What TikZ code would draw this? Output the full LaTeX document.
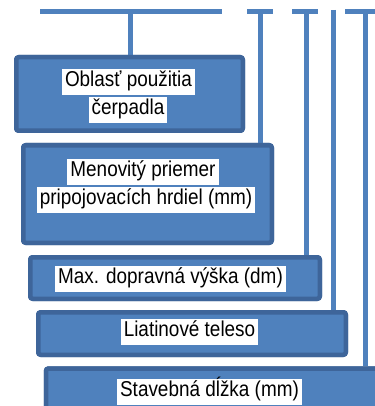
\documentclass[tikz,border=0pt]{standalone}
\usepackage{fontspec}
\setmainfont[FakeStretch=0.88]{Liberation Sans}
\usetikzlibrary{shadows}
\definecolor{lineblue}{HTML}{4F81BD}
\definecolor{boxfill}{HTML}{4F81BD}
\definecolor{boxedge}{HTML}{3E659A}
\tikzset{
  x=1pt,y=1pt,
  conn/.style={draw=lineblue,line width=5pt},
  box/.style={draw=boxedge,fill=boxfill,line width=4.5pt,rounded corners=2.5pt,
    inner sep=0pt,drop shadow={opacity=0.2,shadow xshift=1pt,shadow yshift=-2pt}},
  boxtop/.style={draw=boxedge,fill=boxfill,line width=4.5pt,rounded corners=2.5pt,inner sep=0pt},
  lbl/.style={fill=white,font=\fontsize{21.5}{24}\selectfont,text=black,
    inner xsep=3pt,inner ysep=0pt,text height=17.5pt,text depth=8.5pt}
}
\begin{document}
\begin{tikzpicture}
\useasboundingbox (0,0) rectangle (374,-406);
% boxes (outer edges given, path inset by half the line width)
\node[box,minimum width=226.5,minimum height=73.5] (b1) at (129.5,-94) {};
\node[box,minimum width=248.5,minimum height=97.5] (b2) at (147.5,-194) {};
\node[box,minimum width=289.5,minimum height=41.5] (b3) at (175,-278) {};
\node[box,minimum width=307.5,minimum height=42.5] (b4) at (192,-333.5) {};
\node[box,minimum width=340,minimum height=44] (b5) at (216,-390.5) {};
% connectors
\coordinate (h1l) at (40,-12);
\coordinate (h1r) at (222,-12);
\coordinate (s1) at (130.5,-12);
\coordinate (h2l) at (247,-12);
\coordinate (h2r) at (273,-12);
\coordinate (s2) at (260,-12);
\coordinate (h3l) at (292,-12);
\coordinate (h3r) at (318,-12);
\coordinate (s3) at (306.5,-12);
\coordinate (s4) at (333,-10);
\coordinate (h5l) at (345,-12);
\coordinate (h5r) at (376,-12);
\coordinate (s5) at (365,-12);
\draw[conn] (h1l) -- (h1r);
\draw[conn] (s1) -- (s1 |- b1.north);
\draw[conn] (h2l) -- (h2r);
\draw[conn] (s2) -- (s2 |- b2.north);
\draw[conn] (h3l) -- (h3r);
\draw[conn] (s3) -- (s3 |- b3.north);
\draw[conn] (s4) -- (s4 |- b4.north);
\draw[conn] (h5l) -- (h5r);
\draw[conn] (s5) -- (s5 |- b5.north);
% redraw boxes over the connector ends
\node[boxtop,minimum width=226.5,minimum height=73.5] at (b1) {};
\node[boxtop,minimum width=248.5,minimum height=97.5] at (b2) {};
\node[boxtop,minimum width=289.5,minimum height=41.5] at (b3) {};
\node[boxtop,minimum width=307.5,minimum height=42.5] at (b4) {};
\node[boxtop,minimum width=340,minimum height=44] at (b5) {};
% labels
\node[lbl] (t1a) at (128.5,-82.5) {Oblasť použitia};
\node[lbl] (t1b) at (128,-110.5) {čerpadla};
\node[lbl] (t2a) at (143,-171.5) {Menovitý priemer};
\node[lbl] (t2b) at (146,-199.5) {pripojovacích hrdiel (mm)\hspace{4pt}};
\node[lbl] (t3) at (170.5,-278.5) {Max. dopravná výška (dm)};
\node[lbl] (t4) at (189.5,-332) {Liatinové teleso};
\node[lbl] (t5) at (209.5,-391.5) {Stavebná dĺžka (mm)};
\end{tikzpicture}
\end{document}
